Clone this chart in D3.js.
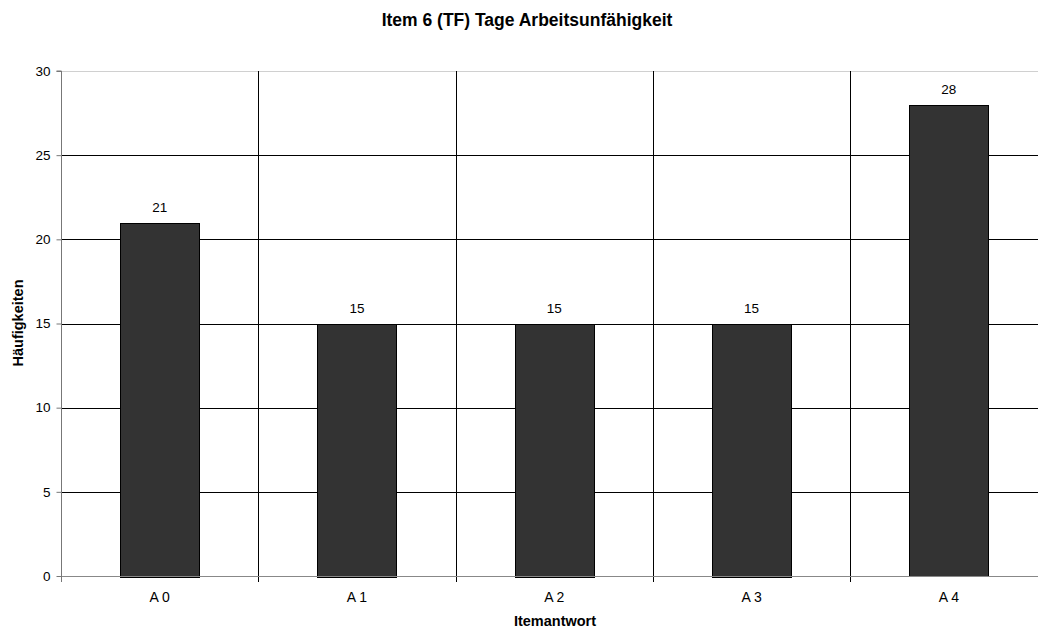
<!DOCTYPE html>
<html><head><meta charset="utf-8">
<script src="https://cdn.jsdelivr.net/npm/d3@7"></script>
<style>body{margin:0;background:#fff}svg{display:block;font-family:"Liberation Sans",Arial,sans-serif}</style>
</head><body>
<svg id="c" width="1038" height="630"></svg>
<script>
const categories = ["A 0","A 1","A 2","A 3","A 4"];
const values = [21,15,15,15,28];
const yTicks = [0,5,10,15,20,25,30];
const title = "Item 6 (TF) Tage Arbeitsunfähigkeit";
const xTitle = "Itemantwort";
const yTitle = "Häufigkeiten";

const svg = d3.select("#c");
const L = 61, R = 1047.5, T = 71, B = 576;
const x = d3.scaleBand().domain(categories).range([L, R]).paddingInner(0).paddingOuter(0);
const y = d3.scaleLinear().domain([0,30]).range([B, T]);

// horizontal gridlines
svg.append("g").selectAll("line").data(yTicks.filter(d=>d>0)).join("line")
  .attr("x1", L).attr("x2", R)
  .attr("y1", d=>Math.round(y(d))+0.5).attr("y2", d=>Math.round(y(d))+0.5)
  .attr("stroke", d=> d===30 ? "#d0d0d0" : "#000").attr("stroke-width",1);

// vertical gridlines between categories
svg.append("g").selectAll("line").data(categories.slice(1)).join("line")
  .attr("x1", d=>Math.round(x(d))+0.5).attr("x2", d=>Math.round(x(d))+0.5)
  .attr("y1", T).attr("y2", B+6)
  .attr("stroke","#000");

// bars
const bw = x.bandwidth()*0.4;
svg.append("g").selectAll("rect").data(values).join("rect")
  .attr("x", (d,i)=> Math.round(x(categories[i]) + x.bandwidth()/2 - bw/2)+0.5)
  .attr("width", Math.round(bw))
  .attr("y", d=> Math.round(y(d))+0.5)
  .attr("height", d=> Math.round(B - y(d)))
  .attr("fill","#333333").attr("stroke","#000").attr("stroke-width",1);

// value labels
svg.append("g").selectAll("text").data(values).join("text")
  .attr("x", (d,i)=> x(categories[i]) + x.bandwidth()/2)
  .attr("y", d=> y(d) - 10.5)
  .attr("text-anchor","middle").attr("font-size","13.5px").attr("fill","#000")
  .text(d=>d);

// y axis
const yAxis = d3.axisLeft(y).tickValues(yTicks).tickSize(5).tickPadding(6);
const gy = svg.append("g").attr("transform",`translate(${L+0.5},0)`).call(yAxis);
gy.select(".domain").attr("stroke","#777").attr("d", `M-5,${T}H0V${B+0.5}`);
gy.selectAll(".tick line").attr("stroke","#777");
gy.selectAll(".tick text").attr("font-size","13.5px").attr("fill","#000").attr("font-family","Liberation Sans, Arial, sans-serif");

// x axis baseline
svg.append("line").attr("x1", L).attr("x2", R).attr("y1", B+0.5).attr("y2", B+0.5).attr("stroke","#888");
svg.append("line").attr("x1", L+0.5).attr("x2", L+0.5).attr("y1", B).attr("y2", B+6).attr("stroke","#777");

// x tick labels
svg.append("g").selectAll("text").data(categories).join("text")
  .attr("x", d=> x(d)+x.bandwidth()/2).attr("y", 601.5)
  .attr("text-anchor","middle").attr("font-size","14px").attr("fill","#000")
  .text(d=>d);

// titles
svg.append("text").attr("x", 527).attr("y", 26).attr("text-anchor","middle")
  .attr("font-size","17.5px").attr("font-weight","bold").text(title);
svg.append("text").attr("x", 555).attr("y", 626).attr("text-anchor","middle")
  .attr("font-size","14.5px").attr("font-weight","bold").text(xTitle);
svg.append("text").attr("transform","translate(23,323) rotate(-90)").attr("text-anchor","middle")
  .attr("font-size","14.5px").attr("font-weight","bold").text(yTitle);
</script>
</body></html>
